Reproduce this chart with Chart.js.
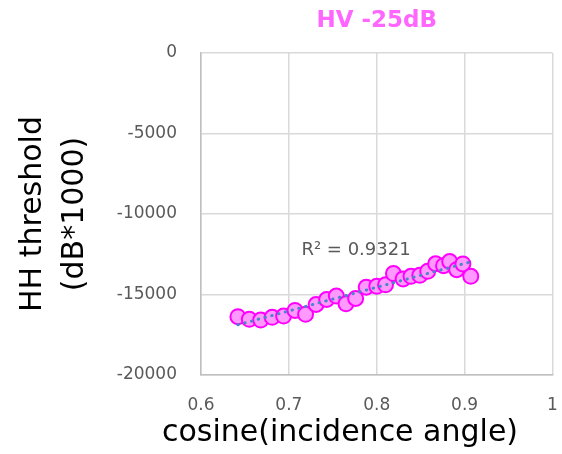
<!DOCTYPE html>
<html>
<head>
<meta charset="utf-8">
<script src="https://cdn.jsdelivr.net/npm/chart.js@4/dist/chart.umd.min.js"></script>
<style>
  html, body { margin: 0; padding: 0; background: #ffffff; }
  #wrap { width: 562px; height: 454px; position: relative; }
</style>
</head>
<body>
<div id="wrap"><canvas id="c" width="562" height="454"></canvas></div>
<script>
// ---- data ----
const chartTitle = 'HV -25dB';
const xTitle = 'cosine(incidence angle)';
const yTitle = ['HH threshold', '(dB*1000)'];
const r2Label = 'R\u00B2 = 0.9321';

const cosAngle = [0.642, 0.655, 0.668, 0.681, 0.694, 0.707, 0.719, 0.731, 0.743, 0.754,
                  0.765, 0.776, 0.788, 0.800, 0.810, 0.819, 0.830, 0.839, 0.849, 0.858,
                  0.867, 0.876, 0.883, 0.891, 0.898, 0.907];
const hhThreshold = [-16380, -16540, -16590, -16420, -16340, -15990, -16230, -15620, -15310, -15100,
                     -15580, -15250, -14550, -14490, -14400, -13700, -14030, -13870, -13810, -13560,
                     -13090, -13210, -12950, -13460, -13100, -13870];

const xTicks = [0.6, 0.7, 0.8, 0.9, 1];
const yTicks = [-20000, -15000, -10000, -5000, 0];

// ---- linear trendline (least squares on the data) ----
const points = cosAngle.map((x, i) => ({ x: x, y: hhThreshold[i] }));
const n = points.length;
const mx = cosAngle.reduce((a, b) => a + b, 0) / n;
const my = hhThreshold.reduce((a, b) => a + b, 0) / n;
let sxy = 0, sxx = 0;
for (let i = 0; i < n; i++) { sxy += (cosAngle[i] - mx) * (hhThreshold[i] - my); sxx += (cosAngle[i] - mx) ** 2; }
const slope = sxy / sxx, intercept = my - slope * mx;
const xMinD = Math.min(...cosAngle), xMaxD = Math.max(...cosAngle);
const trend = [{ x: xMinD, y: intercept + slope * xMinD }, { x: xMaxD, y: intercept + slope * xMaxD }];

const FONT = "'DejaVu Sans', Verdana, sans-serif";

const textPlugin = {
  id: 'extraText',
  afterDraw(chart) {
    const ctx = chart.ctx;
    const a = chart.chartArea;
    ctx.save();
    // R² label
    ctx.fillStyle = '#595959';
    ctx.font = '18px ' + FONT;
    ctx.textAlign = 'center';
    ctx.textBaseline = 'middle';
    ctx.fillText(r2Label, a.left + 155, a.top + 197);
    // x-axis title
    ctx.fillStyle = '#000000';
    ctx.font = '30px ' + FONT;
    ctx.fillText(xTitle, 340, 433);
    ctx.restore();
  }
};

new Chart(document.getElementById('c'), {
  type: 'scatter',
  data: {
    datasets: [
      {
        type: 'line',
        label: 'trend',
        data: trend,
        borderColor: '#4A86C8',
        borderWidth: 3,
        borderDash: [0.5, 6.5],
        borderCapStyle: 'round',
        pointRadius: 0,
        fill: false,
        order: 0
      },
      {
        label: chartTitle,
        data: points,
        backgroundColor: '#FF99FF',
        borderColor: '#FF00FF',
        borderWidth: 2,
        pointRadius: 7.5,
        pointHoverRadius: 7.5,
        order: 1
      }
    ]
  },
  options: {
    responsive: false,
    devicePixelRatio: 1,
    animation: false,
    layout: { padding: { left: 0, right: 9, top: 0, bottom: 0 } },
    plugins: {
      legend: { display: false },
      tooltip: { enabled: false },
      title: {
        display: true,
        text: chartTitle,
        color: '#FF66FF',
        fullSize: false,
        align: 'center',
        font: { family: FONT, size: 23, weight: 'bold' },
        padding: { top: 7, bottom: 18.4 }
      }
    },
    scales: {
      x: {
        type: 'linear',
        min: 0.6, max: 1,
        afterBuildTicks: s => { s.ticks = xTicks.map(v => ({ value: v })); },
        afterFit: s => { s.height = 79; s.paddingLeft = 0; s.paddingRight = 0; },
        ticks: {
          color: '#595959',
          font: { family: FONT, size: 17 },
          padding: 20,
          callback: v => String(Number(v.toFixed(1)))
        },
        grid: { color: '#D9D9D9', lineWidth: 1.5, drawTicks: false },
        border: { display: true, color: '#BFBFBF', width: 1.5 },
        title: { display: false }
      },
      y: {
        type: 'linear',
        min: -20000, max: 0,
        afterBuildTicks: s => { s.ticks = yTicks.map(v => ({ value: v })); },
        afterFit: s => { s.width = 201; s.paddingTop = 0; s.paddingBottom = 0; },
        ticks: {
          color: '#595959',
          font: { family: FONT, size: 17 },
          padding: 24,
          callback: v => String(v)
        },
        grid: { color: '#D9D9D9', lineWidth: 1.5, drawTicks: false },
        border: { display: true, color: '#BFBFBF', width: 1.5 },
        title: {
          display: true,
          text: yTitle,
          color: '#000000',
          font: { family: FONT, size: 30, lineHeight: 1.4 },
          padding: { top: 12, bottom: 0 }
        }
      }
    }
  },
  plugins: [textPlugin]
});
</script>
</body>
</html>
